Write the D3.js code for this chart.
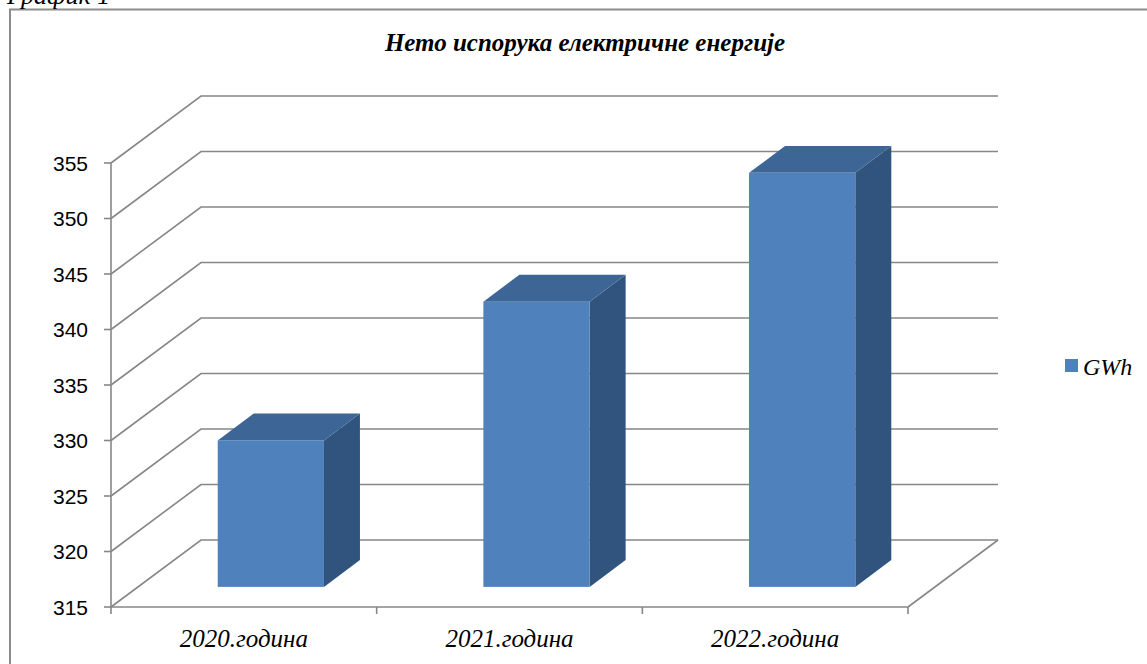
<!DOCTYPE html>
<html>
<head>
<meta charset="utf-8">
<script src="https://cdn.jsdelivr.net/npm/d3@7"></script>
<style>
  html, body { margin: 0; padding: 0; background: #fff; }
  svg { display: block; }
</style>
</head>
<body>
<svg id="chart" width="1147" height="664"></svg>
<script>
// Net electricity delivery, GWh per year
const categories = ["2020.година", "2021.година", "2022.година"];
const values = [328.2, 340.7, 352.3];
const yTicks = [315, 320, 325, 330, 335, 340, 345, 350, 355];
const seriesName = "GWh";
const chartTitle = "Нето испорука електричне енергије";
const caption = "График 1";

const W = 1147, H = 664;
const svg = d3.select("#chart");
const serif = "'Liberation Serif', 'Times New Roman', serif";

// plot geometry (front plane of the 3D box) and depth vector
const plotLeft = 111, plotRight = 908, plotBottom = 607, plotTop = 163;
const DX = 90, DY = -67;
const barFront = 0.3, barDepth = 0.4;

const colFront = "#4F81BD", colTop = "#3D6696", colSide = "#31547E";
const gridCol = "#878787";

const y = d3.scaleLinear().domain([315, 355]).range([plotBottom, plotTop]);
const x = d3.scaleBand().domain(categories).range([plotLeft, plotRight])
  .paddingInner(0.6).paddingOuter(0.3);
const step = x.step();

// outer frame
svg.append("path")
  .attr("d", `M10,${H + 5}V9.5H${W + 5}`)
  .attr("fill", "none").attr("stroke", "#8c8c8c").attr("stroke-width", 2);

// caption above the frame
svg.append("text")
  .attr("x", 7).attr("y", 4)
  .attr("font-family", serif)
  .attr("font-style", "italic").attr("font-size", 26)
  .attr("fill", "#000").text(caption);

// title
svg.append("text")
  .attr("x", 585).attr("y", 51)
  .attr("text-anchor", "middle")
  .attr("font-family", serif)
  .attr("font-style", "italic").attr("font-weight", "bold")
  .attr("font-size", 25).attr("fill", "#000").text(chartTitle);

const grid = svg.append("g")
  .attr("fill", "none").attr("stroke", gridCol).attr("stroke-width", 1.6);

// side wall diagonals and back wall lines
yTicks.forEach(t => {
  const yy = y(t);
  grid.append("path")
    .attr("d", `M${plotLeft},${yy}L${plotLeft + DX},${yy + DY}H${plotRight + DX}`);
});
// floor right edge
grid.append("path")
  .attr("d", `M${plotRight},${plotBottom}L${plotRight + DX},${plotBottom + DY}`);

// value axis
const yAxis = svg.append("g");
yAxis.append("path")
  .attr("d", `M${plotLeft},${y(355)}V${plotBottom}`)
  .attr("stroke", gridCol).attr("stroke-width", 1.6).attr("fill", "none");
yTicks.forEach(t => {
  yAxis.append("path")
    .attr("d", `M${plotLeft - 7},${y(t)}H${plotLeft}`)
    .attr("stroke", gridCol).attr("stroke-width", 1.6);
  yAxis.append("text")
    .attr("x", 88).attr("y", y(t) + 7.5)
    .attr("text-anchor", "end")
    .attr("font-family", "'Liberation Sans', Arial, sans-serif")
    .attr("font-size", 21).attr("fill", "#000")
    .text(t);
});

// category axis
const xAxis = svg.append("g");
xAxis.append("path")
  .attr("d", `M${plotLeft},${plotBottom}H${plotRight}`)
  .attr("stroke", gridCol).attr("stroke-width", 1.6);
d3.range(categories.length + 1).forEach(i => {
  const xx = plotLeft + i * step;
  xAxis.append("path")
    .attr("d", `M${xx},${plotBottom}V${plotBottom + 7}`)
    .attr("stroke", gridCol).attr("stroke-width", 1.6);
});
categories.forEach(c => {
  xAxis.append("text")
    .attr("x", x(c) + x.bandwidth() / 2).attr("y", 647)
    .attr("text-anchor", "middle")
    .attr("font-family", serif)
    .attr("font-style", "italic").attr("font-size", 25)
    .attr("fill", "#000").text(c);
});

// 3D columns
const bars = svg.append("g");
categories.forEach((c, i) => {
  const x0 = x(c) + barFront * DX;
  const x1 = x0 + x.bandwidth();
  const yT = y(values[i]) + barFront * DY;
  const yB = y(315) + barFront * DY;
  const ddx = barDepth * DX, ddy = barDepth * DY;
  bars.append("path")
    .attr("d", `M${x1},${yT}L${x1 + ddx},${yT + ddy}L${x1 + ddx},${yB + ddy}L${x1},${yB}Z`)
    .attr("fill", colSide);
  bars.append("path")
    .attr("d", `M${x0},${yT}L${x0 + ddx},${yT + ddy}L${x1 + ddx},${yT + ddy}L${x1},${yT}Z`)
    .attr("fill", colTop);
  bars.append("rect")
    .attr("x", x0).attr("y", yT)
    .attr("width", x1 - x0).attr("height", yB - yT)
    .attr("fill", colFront);
});

// legend
const legend = svg.append("g");
legend.append("rect")
  .attr("x", 1065).attr("y", 359).attr("width", 13).attr("height", 13)
  .attr("fill", colFront);
legend.append("text")
  .attr("x", 1083).attr("y", 375)
  .attr("font-family", serif)
  .attr("font-style", "italic").attr("font-size", 24)
  .attr("fill", "#000").text(seriesName);
</script>
</body>
</html>
